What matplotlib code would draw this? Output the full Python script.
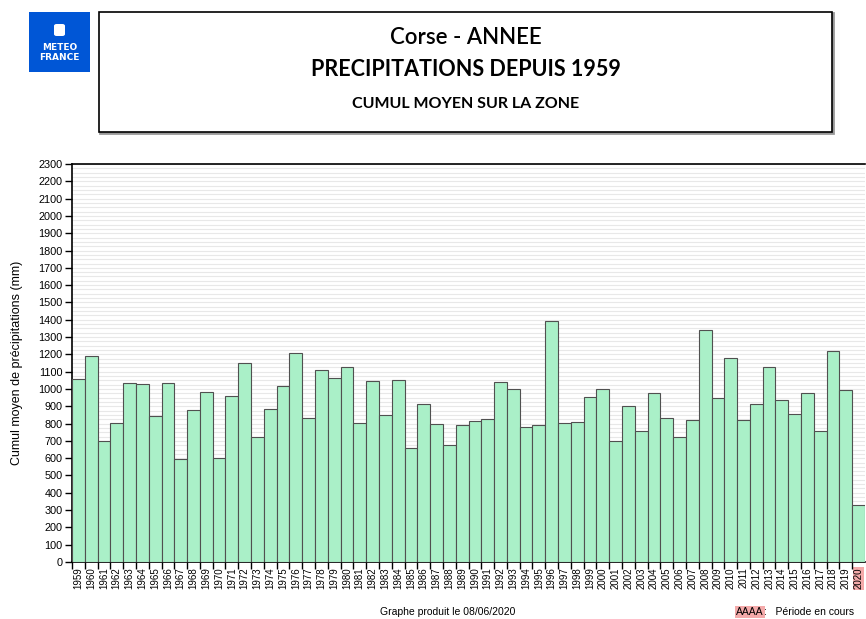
import matplotlib
matplotlib.use("Agg")
import matplotlib.pyplot as plt
from matplotlib.patches import Rectangle, FancyBboxPatch
from matplotlib.ticker import MultipleLocator, FixedLocator

years = list(range(1959, 2021))
cumul = [1055, 1190, 700, 805, 1035, 1030, 843, 1035, 595, 879, 980, 601,
         957, 1150, 720, 883, 1017, 1207, 831, 1112, 1066, 1129, 802, 1044,
         851, 1053, 658, 911, 795, 674, 790, 817, 828, 1041, 998, 782,
         792, 1393, 801, 807, 953, 998, 697, 900, 757, 974, 834, 724,
         823, 1339, 950, 1181, 818, 911, 1125, 935, 858, 974, 759, 1220,
         995, 329]
current_year = 2020

title1 = "Corse - ANNEE"
title2 = "PRECIPITATIONS DEPUIS 1959"
title3 = "CUMUL MOYEN SUR LA ZONE"
ylabel = "Cumul moyen de précipitations (mm)"
footer = "Graphe produit le 08/06/2020"

W, H = 866, 619
fig = plt.figure(figsize=(W / 100, H / 100), dpi=100)
plt.rcParams['font.family'] = ['Liberation Sans', 'DejaVu Sans']

def fx(px):
    return px / W

def fy(py):
    return 1 - py / H

# logo
blue = "#0056d6"
fig.patches.append(Rectangle((fx(29), fy(72)), fx(61), 60 / H, transform=fig.transFigure,
                             facecolor=blue, edgecolor="none"))
fig.patches.append(FancyBboxPatch((fx(54), fy(36)), fx(11), 12 / H, transform=fig.transFigure,
                                  boxstyle="round,pad=0,rounding_size=0.003",
                                  facecolor="white", edgecolor="none"))
fig.text(fx(59.5), fy(47), "METEO", color="white", fontsize=6.5, fontweight="bold",
         ha="center", va="center", family="DejaVu Sans")
fig.text(fx(59.5), fy(57), "FRANCE", color="white", fontsize=6.5, fontweight="bold",
         ha="center", va="center", family="DejaVu Sans")

# title box
fig.patches.append(Rectangle((fx(100), fy(133)), fx(733), 120 / H, transform=fig.transFigure,
                             facecolor="none", edgecolor="#999999", linewidth=2))
fig.patches.append(Rectangle((fx(99), fy(132)), fx(733), 120 / H, transform=fig.transFigure,
                             facecolor="white", edgecolor="black", linewidth=1.2))
cx = fx(465.5)
fig.text(cx, fy(38), title1, fontsize=16, ha="center", va="center", family="Lato",
         fontweight="semibold")
fig.text(cx, fy(70), title2, fontsize=15.5, ha="center", va="center", family="Lato",
         fontweight="bold")
fig.text(cx, fy(104.5), title3, fontsize=11.5, ha="center", va="center", family="Lato",
         fontweight="bold")

# chart
ax = fig.add_axes([fx(72), fy(562), fx(865) - fx(72), (562 - 164) / H])
ax.bar(years, cumul, width=1.0, color="#aaf0c8", edgecolor="#505050", linewidth=0.8, zorder=3)
ax.set_xlim(years[0] - 0.5, years[-1] + 0.5)
ax.set_ylim(0, 2300)
ax.yaxis.set_major_locator(MultipleLocator(100))
ax.yaxis.set_minor_locator(MultipleLocator(25))
ax.grid(axis="y", which="both", color="#e8e8e8", linewidth=0.8, zorder=0)
ax.set_axisbelow(True)
ax.tick_params(axis="y", which="major", labelsize=7.8, length=5, width=1, direction="out", pad=2)
ax.tick_params(axis="y", which="minor", length=0)
ax.set_xticks(years)
ax.set_xticklabels([str(y) for y in years], rotation=90, fontsize=7)
ax.tick_params(axis="x", which="major", length=0, pad=4)
ax.xaxis.set_minor_locator(FixedLocator([y - 0.5 for y in years]))
ax.tick_params(axis="x", which="minor", length=5, width=1, direction="out")
for lab in ax.get_xticklabels():
    if lab.get_text() == str(current_year):
        lab.set_bbox(dict(facecolor="#f4aaaa", edgecolor="none", pad=0.5))
for s in ax.spines.values():
    s.set_linewidth(1.2)
ax.spines["right"].set_visible(False)
fig.text(fx(17), fy(363), ylabel, rotation=90, fontsize=9, ha="center", va="center")

# footer
fig.text(fx(380), fy(612), footer, fontsize=7.5, ha="left", va="center")
fig.text(fx(736), fy(612), "AAAA", fontsize=7.5, ha="left", va="center",
         bbox=dict(facecolor="#f4aaaa", edgecolor="none", pad=0.8))
fig.text(fx(764), fy(612), ":   Période en cours", fontsize=7.5, ha="left", va="center")

fig.savefig("out.png", dpi=100)
